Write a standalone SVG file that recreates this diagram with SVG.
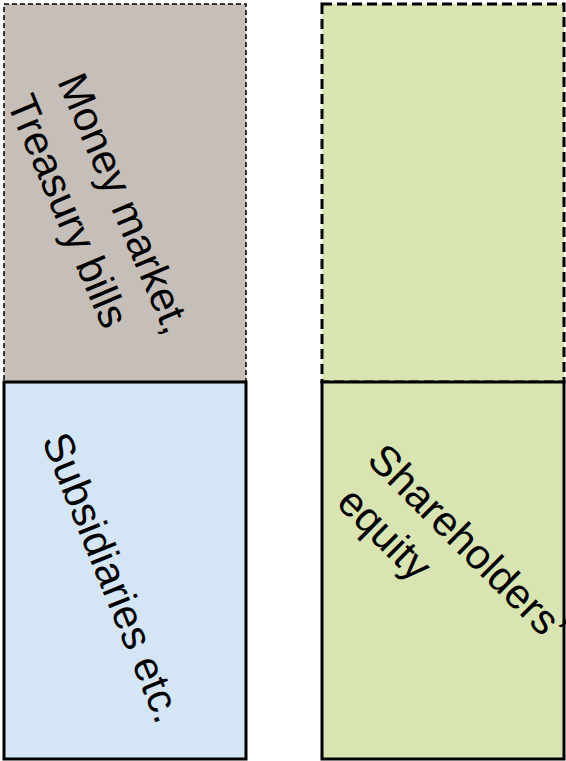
<svg xmlns="http://www.w3.org/2000/svg" width="566" height="761" viewBox="0 0 566 761">
<style>
.lbl{font-family:"Liberation Sans",Arial,sans-serif;fill:#000;font-size:42px;}
.solid{stroke:#000;stroke-width:3;}
</style>
<rect width="566" height="761" fill="#fff"/>
<g id="money-market">
<rect x="4" y="4" width="242" height="378" fill="#c6bfb9" stroke="#000" stroke-width="1.5" stroke-dasharray="5,3"/>
<text class="lbl" transform="translate(57,81) rotate(67)"><tspan x="0" y="0">Money market,</tspan><tspan x="0" y="55">Treasury bills</tspan></text>
</g>
<g id="subsidiaries">
<rect class="solid" x="4" y="382" width="242" height="377" fill="#d4e6f5"/>
<text class="lbl" transform="translate(41.5,440) rotate(68)">Subsidiaries etc.</text>
</g>
<g id="top-right">
<rect x="322" y="4" width="242" height="378" fill="#d8e4b2" stroke="#000" stroke-width="3" stroke-dasharray="10,5"/>
</g>
<g id="equity">
<rect class="solid" x="322" y="382" width="242" height="377" fill="#d8e4b2"/>
<text class="lbl" transform="translate(365.5,461.5) rotate(44.8)"><tspan x="0" y="0">Shareholders’</tspan><tspan x="8.5" y="52">equity</tspan></text>
</g>
<g id="connectors"></g>
</svg>
